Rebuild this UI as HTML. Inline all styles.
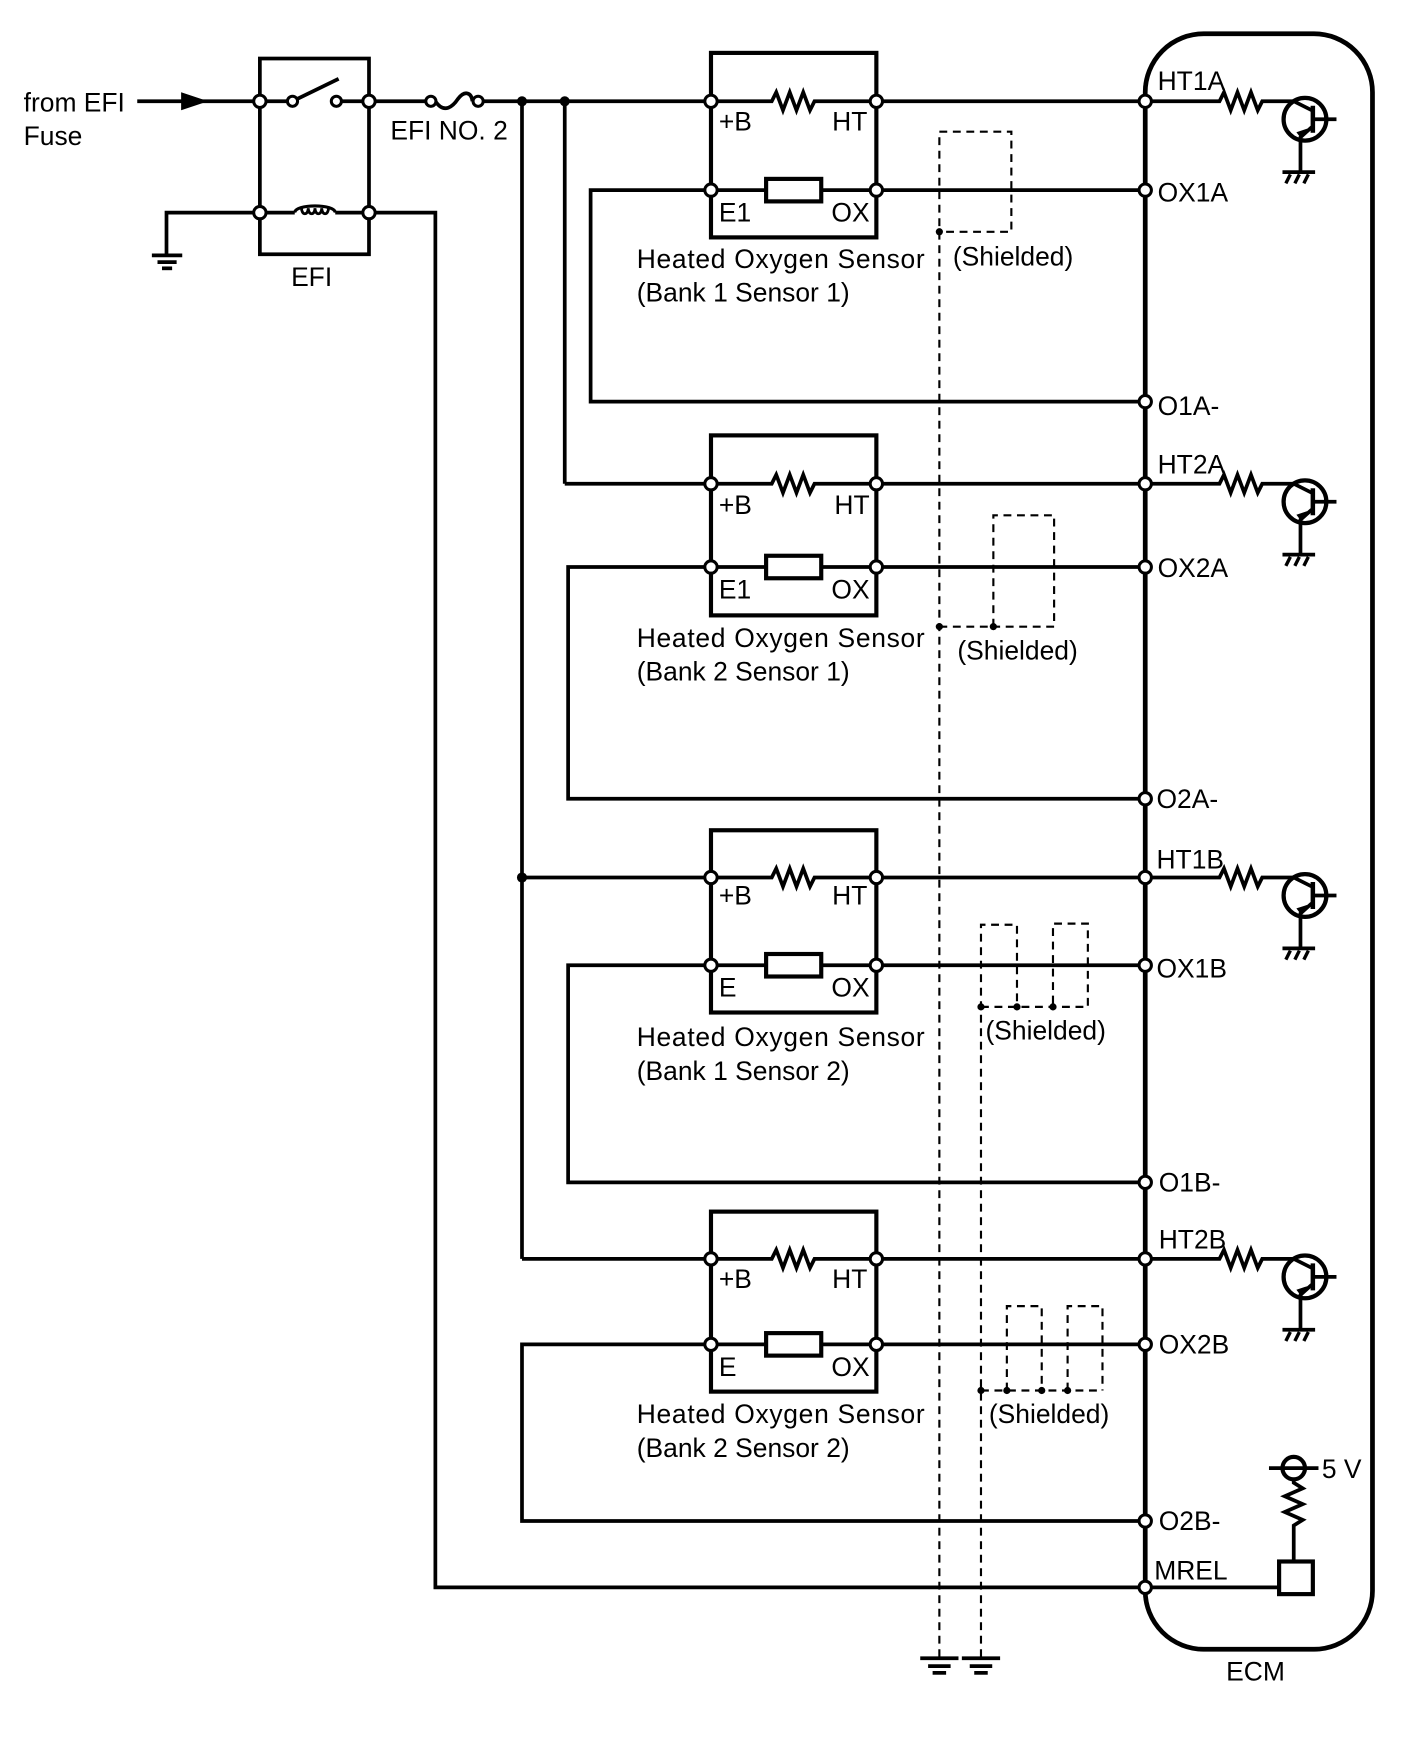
<!DOCTYPE html>
<html><head><meta charset="utf-8"><style>
html,body{margin:0;padding:0;background:#fff}
svg{display:block}
text{font-family:"Liberation Sans",Arial,sans-serif;font-size:23.5px;fill:#000}
</style></head><body>
<svg width="1424" height="1763" viewBox="0 0 1265.8 1567.1" xmlns="http://www.w3.org/2000/svg">
<defs>
<g id="tr">
  <path d="M1018 90 H1084 l4 -8 l6 16 l6 -16 l6 16 l6 -16 l6 16 l4 -8 H1150 L1166 98" fill="none" stroke="#000" stroke-width="3.3"/>
  <circle cx="1160" cy="106" r="19" fill="none" stroke="#000" stroke-width="3.8"/>
  <line x1="1167" y1="94" x2="1167" y2="118" stroke="#000" stroke-width="4"/>
  <line x1="1167" y1="106" x2="1188" y2="106" stroke="#000" stroke-width="3.3"/>
  <path d="M1166 113 L1156 122 V152" fill="none" stroke="#000" stroke-width="3.3"/>
  <path d="M1160 116 l-6 2 l3 4 z" fill="#000" stroke="#000" stroke-width="2"/>
  <line x1="1140" y1="153" x2="1169" y2="153" stroke="#000" stroke-width="3.3"/>
  <path d="M1147 155 l-4 8 M1155 155 l-4 8 M1163 155 l-4 8" stroke="#000" stroke-width="3"/>
</g>
</defs>
<g fill="none" stroke="#000" stroke-width="3.3">
  <rect x="1018" y="30" width="202" height="1436" rx="52" ry="52" stroke-width="4.2"/>
  <rect x="231" y="52" width="97" height="174"/>
  <line x1="122" y1="90" x2="231" y2="90"/>
  <line x1="231" y1="90" x2="256" y2="90"/>
  <line x1="264" y1="88" x2="301" y2="70"/>
  <line x1="303" y1="90" x2="328" y2="90"/>
  <path d="M231 189 H262 M298 189 H328"/>
  <path d="M262 189 c0 -8 36 -8 36 0" stroke-width="2.8"/>
  <path d="M268 185 a3 5 0 1 0 6 0 a3 5 0 1 0 6 0 a3 5 0 1 0 6 0 a3 5 0 1 0 6 0" stroke-width="2.5"/>
  <path d="M231 189 H148 V226"/>
  <line x1="135" y1="227" x2="162" y2="227"/>
  <line x1="140" y1="233" x2="157" y2="233"/>
  <line x1="144" y1="238.5" x2="153" y2="238.5"/>
  <line x1="328" y1="90" x2="378" y2="90"/>
  <path d="M387 90 c8 12 16 4 20 -2 c6 -8 12 -6 13 2"/>
  <line x1="429" y1="90" x2="632" y2="90"/>
  <line x1="464" y1="90" x2="464" y2="1119"/>
  <line x1="464" y1="1119" x2="632" y2="1119"/>
  <line x1="502" y1="90" x2="502" y2="430"/>
  <line x1="502" y1="430" x2="632" y2="430"/>
  <line x1="464" y1="780" x2="632" y2="780"/>
  <path d="M328 189 H387 V1411 H1137"/>
  <path d="M632 169 H525 V357 H1018"/>
  <path d="M632 504 H505 V710 H1018"/>
  <path d="M632 858 H505 V1051 H1018"/>
  <path d="M632 1195 H464 V1352 H1018"/>
  <line x1="779" y1="90" x2="1018" y2="90"/>
  <line x1="779" y1="169" x2="1018" y2="169"/>
  <line x1="779" y1="430" x2="1018" y2="430"/>
  <line x1="779" y1="504" x2="1018" y2="504"/>
  <line x1="779" y1="780" x2="1018" y2="780"/>
  <line x1="779" y1="858" x2="1018" y2="858"/>
  <line x1="779" y1="1119" x2="1018" y2="1119"/>
  <line x1="779" y1="1195" x2="1018" y2="1195"/>
  <rect x="632" y="47" width="147" height="164" stroke-width="3.7"/>
  <rect x="632" y="387" width="147" height="160" stroke-width="3.7"/>
  <rect x="632" y="738" width="147" height="162" stroke-width="3.7"/>
  <rect x="632" y="1077" width="147" height="160" stroke-width="3.7"/>
  <path d="M632 90 H686 l4 -8 l6 16 l6 -16 l6 16 l6 -16 l6 16 l4 -8 H779"/>
  <path d="M632 430 H686 l4 -8 l6 16 l6 -16 l6 16 l6 -16 l6 16 l4 -8 H779"/>
  <path d="M632 780 H686 l4 -8 l6 16 l6 -16 l6 16 l6 -16 l6 16 l4 -8 H779"/>
  <path d="M632 1119 H686 l4 -8 l6 16 l6 -16 l6 16 l6 -16 l6 16 l4 -8 H779"/>
  <line x1="632" y1="169" x2="779" y2="169"/>
  <line x1="632" y1="504" x2="779" y2="504"/>
  <line x1="632" y1="858" x2="779" y2="858"/>
  <line x1="632" y1="1195" x2="779" y2="1195"/>
  <g fill="#fff" stroke-width="3.7">
    <rect x="681" y="159" width="49" height="20"/>
    <rect x="681" y="494" width="49" height="20"/>
    <rect x="681" y="848" width="49" height="20"/>
    <rect x="681" y="1185" width="49" height="20"/>
  </g>
  <line x1="1128" y1="1305" x2="1172" y2="1305"/>
  <circle cx="1150" cy="1305" r="10" fill="none" stroke-width="3.7"/>
  <path d="M1150 1315 V1318 l8 5 l-16 7 l16 7 l-16 7 l16 7 l-8 5 V1388"/>
  <rect x="1137" y="1388" width="30" height="29" fill="#fff" stroke-width="3.7"/>
</g>
<path d="M161 82 L185 90 L161 98 Z" fill="#000"/>
<use href="#tr"/>
<use href="#tr" transform="translate(0,340)"/>
<use href="#tr" transform="translate(0,690)"/>
<use href="#tr" transform="translate(0,1029)"/>
<g fill="none" stroke="#000" stroke-width="1.9" stroke-dasharray="7,5">
  <path d="M835 1473 V117 H899 V206 H835"/>
  <path d="M835 557 H883 V458 H937 V557 H883"/>
  <path d="M872 1473 V822 H904 V895"/>
  <path d="M872 895 H967 V821 H936 V895"/>
  <path d="M895 1236 V1161 H926 V1236"/>
  <path d="M949 1236 V1161 H980 V1236"/>
  <path d="M872 1236 H980"/>
</g>
<g fill="#000">
  <circle cx="835" cy="206" r="3.2"/>
  <circle cx="835" cy="557" r="3.2"/><circle cx="883" cy="557" r="3.2"/>
  <circle cx="872" cy="895" r="3.2"/><circle cx="904" cy="895" r="3.2"/><circle cx="936" cy="895" r="3.2"/>
  <circle cx="872" cy="1236" r="3.2"/><circle cx="895" cy="1236" r="3.2"/><circle cx="926" cy="1236" r="3.2"/><circle cx="949" cy="1236" r="3.2"/>
  <circle cx="464" cy="90" r="4.5"/><circle cx="502" cy="90" r="4.5"/><circle cx="464" cy="780" r="4.5"/>
</g>
<g stroke="#000" stroke-width="3.3">
  <line x1="818" y1="1474" x2="852" y2="1474"/>
  <line x1="825" y1="1481" x2="845" y2="1481"/>
  <line x1="829" y1="1487" x2="841" y2="1487"/>
  <line x1="855" y1="1474" x2="889" y2="1474"/>
  <line x1="862" y1="1481" x2="882" y2="1481"/>
  <line x1="866" y1="1487" x2="878" y2="1487"/>
</g>
<g fill="#fff" stroke="#000" stroke-width="2.7">
  <circle cx="231" cy="90" r="5.5"/><circle cx="328" cy="90" r="5.5"/>
  <circle cx="231" cy="189" r="5.5"/><circle cx="328" cy="189" r="5.5"/>
  <circle cx="260" cy="90" r="4.5"/><circle cx="299" cy="90" r="4.5"/>
  <circle cx="383" cy="90" r="4.5"/><circle cx="425" cy="90" r="4.5"/>
  <circle cx="632" cy="90" r="5.5"/><circle cx="779" cy="90" r="5.5"/><circle cx="632" cy="169" r="5.5"/><circle cx="779" cy="169" r="5.5"/>
  <circle cx="632" cy="430" r="5.5"/><circle cx="779" cy="430" r="5.5"/><circle cx="632" cy="504" r="5.5"/><circle cx="779" cy="504" r="5.5"/>
  <circle cx="632" cy="780" r="5.5"/><circle cx="779" cy="780" r="5.5"/><circle cx="632" cy="858" r="5.5"/><circle cx="779" cy="858" r="5.5"/>
  <circle cx="632" cy="1119" r="5.5"/><circle cx="779" cy="1119" r="5.5"/><circle cx="632" cy="1195" r="5.5"/><circle cx="779" cy="1195" r="5.5"/>
  <circle cx="1018" cy="90" r="5.5"/><circle cx="1018" cy="169" r="5.5"/><circle cx="1018" cy="357" r="5.5"/>
  <circle cx="1018" cy="430" r="5.5"/><circle cx="1018" cy="504" r="5.5"/><circle cx="1018" cy="710" r="5.5"/>
  <circle cx="1018" cy="780" r="5.5"/><circle cx="1018" cy="858" r="5.5"/><circle cx="1018" cy="1051" r="5.5"/>
  <circle cx="1018" cy="1119" r="5.5"/><circle cx="1018" cy="1195" r="5.5"/><circle cx="1018" cy="1352" r="5.5"/>
  <circle cx="1018" cy="1411" r="5.5"/>
</g>
<text x="21" y="99">from EFI</text>
<text x="21" y="129">Fuse</text>
<text x="347" y="124">EFI NO. 2</text>
<text x="277" y="254" text-anchor="middle">EFI</text>

<text x="639" y="116">+B</text><text x="771" y="116" text-anchor="end">HT</text>
<text x="639" y="197">E1</text><text x="773" y="197" text-anchor="end">OX</text>
<text x="566" y="238" textLength="256">Heated Oxygen Sensor</text>
<text x="566" y="268">(Bank 1 Sensor 1)</text>
<text x="847" y="236">(Shielded)</text>

<text x="639" y="457">+B</text><text x="773" y="457" text-anchor="end">HT</text>
<text x="639" y="532">E1</text><text x="773" y="532" text-anchor="end">OX</text>
<text x="566" y="575" textLength="256">Heated Oxygen Sensor</text>
<text x="566" y="605">(Bank 2 Sensor 1)</text>
<text x="851" y="586">(Shielded)</text>

<text x="639" y="804">+B</text><text x="771" y="804" text-anchor="end">HT</text>
<text x="639" y="886">E</text><text x="773" y="886" text-anchor="end">OX</text>
<text x="566" y="930" textLength="256">Heated Oxygen Sensor</text>
<text x="566" y="960">(Bank 1 Sensor 2)</text>
<text x="876" y="924">(Shielded)</text>

<text x="639" y="1145">+B</text><text x="771" y="1145" text-anchor="end">HT</text>
<text x="639" y="1223">E</text><text x="773" y="1223" text-anchor="end">OX</text>
<text x="566" y="1265" textLength="256">Heated Oxygen Sensor</text>
<text x="566" y="1295">(Bank 2 Sensor 2)</text>
<text x="879" y="1265">(Shielded)</text>

<text x="1029" y="80">HT1A</text>
<text x="1029" y="179">OX1A</text>
<text x="1029" y="369">O1A-</text>
<text x="1029" y="421">HT2A</text>
<text x="1029" y="513">OX2A</text>
<text x="1028" y="718">O2A-</text>
<text x="1028" y="772">HT1B</text>
<text x="1028" y="869">OX1B</text>
<text x="1030" y="1059">O1B-</text>
<text x="1030" y="1110">HT2B</text>
<text x="1030" y="1203">OX2B</text>
<text x="1030" y="1360">O2B-</text>
<text x="1026" y="1404">MREL</text>
<text x="1175" y="1314">5 V</text>
<text x="1116" y="1494" text-anchor="middle">ECM</text>
</svg>
</body></html>
